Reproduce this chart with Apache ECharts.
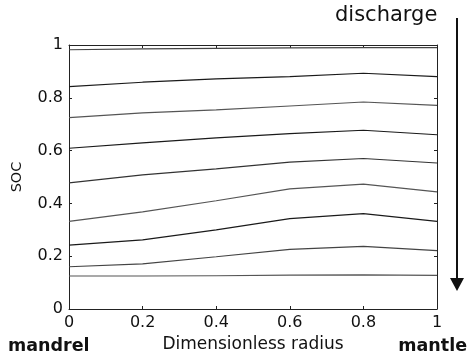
<!DOCTYPE html>
<html>
<head>
<meta charset="utf-8">
<script src="https://cdn.jsdelivr.net/npm/echarts@6/dist/echarts.min.js"></script>
<style>
html,body{margin:0;padding:0;background:#fff;}
#chart{width:468px;height:358px;}
</style>
</head>
<body>
<div id="chart"></div>
<script>
// Dimensionless radius positions
var radius = [0, 0.2, 0.4, 0.6, 0.8, 1.0];
// SOC profiles during discharge (top to bottom)
var soc0 = [0.982, 0.985, 0.987, 0.989, 0.990, 0.990];
var soc1 = [0.842, 0.859, 0.872, 0.880, 0.893, 0.880];
var soc2 = [0.725, 0.743, 0.754, 0.769, 0.784, 0.771];
var soc3 = [0.609, 0.629, 0.648, 0.664, 0.677, 0.660];
var soc4 = [0.478, 0.508, 0.531, 0.556, 0.570, 0.553];
var soc5 = [0.332, 0.368, 0.410, 0.455, 0.473, 0.444];
var soc6 = [0.242, 0.262, 0.300, 0.342, 0.361, 0.332];
var soc7 = [0.160, 0.171, 0.198, 0.226, 0.237, 0.221];
var soc8 = [0.125, 0.125, 0.126, 0.128, 0.129, 0.127];
var xTicks = [0, 0.2, 0.4, 0.6, 0.8, 1];
var yTicks = [0, 0.2, 0.4, 0.6, 0.8, 1];

var profiles = [soc0, soc1, soc2, soc3, soc4, soc5, soc6, soc7, soc8];
var colors = ['#444', '#1a1a1a', '#555', '#1a1a1a', '#333', '#555', '#1a1a1a', '#444', '#555'];

function pairs(arr) { return radius.map(function (r, i) { return [r, arr[i]]; }); }

var FONT = 'DejaVu Sans';
var axisLineStyle = { show: true, onZero: false, lineStyle: { color: '#222', width: 1 } };
var tickStyle = { show: true, inside: true, length: 3, lineStyle: { color: '#222' } };
function fmt(list) {
  return function (v) { var r = Math.round(v * 10) / 10; return list.indexOf(r) >= 0 ? String(r) : ''; };
}

var chart = echarts.init(document.getElementById('chart'), null, { renderer: 'canvas' });
chart.setOption({
  animation: false,
  backgroundColor: '#fff',
  grid: { left: 69, right: 31, top: 45, bottom: 49, containLabel: false },
  xAxis: [{
    type: 'value', min: 0, max: 1, interval: 0.2, position: 'bottom',
    axisLine: axisLineStyle, axisTick: tickStyle, splitLine: { show: false },
    axisLabel: { color: '#111', fontFamily: FONT, fontSize: 16, margin: 6, formatter: fmt(xTicks) },
    name: 'Dimensionless radius', nameLocation: 'middle', nameGap: 20,
    nameTextStyle: { color: '#111', fontFamily: FONT, fontSize: 17 }
  }, {
    type: 'value', min: 0, max: 1, interval: 0.2, position: 'top',
    axisLine: axisLineStyle, axisTick: tickStyle, splitLine: { show: false },
    axisLabel: { show: false }
  }],
  yAxis: [{
    type: 'value', min: 0, max: 1, interval: 0.2, position: 'left',
    axisLine: axisLineStyle, axisTick: tickStyle, splitLine: { show: false },
    axisLabel: { color: '#111', fontFamily: FONT, fontSize: 16, margin: 6, formatter: fmt(yTicks) },
    name: 'SOC', nameLocation: 'middle', nameGap: 44,
    nameTextStyle: { color: '#111', fontFamily: FONT, fontSize: 14.5 }
  }, {
    type: 'value', min: 0, max: 1, interval: 0.2, position: 'right',
    axisLine: axisLineStyle, axisTick: tickStyle, splitLine: { show: false },
    axisLabel: { show: false }
  }],
  series: profiles.map(function (p, i) {
    return {
      type: 'line', xAxisIndex: 0, yAxisIndex: 0, data: pairs(p),
      showSymbol: false, symbol: 'none', smooth: false,
      lineStyle: { color: colors[i], width: 1.2 }, silent: true
    };
  }),
  graphic: [
    { type: 'text', left: 335, top: 5, style: { text: 'discharge', fontFamily: FONT, fontSize: 21, fill: '#111' } },
    { type: 'line', shape: { x1: 457, y1: 18, x2: 457, y2: 282 }, style: { stroke: '#111', lineWidth: 2 } },
    { type: 'polygon', shape: { points: [[450, 278], [464, 278], [457, 291]] }, style: { fill: '#111' } },
    { type: 'text', left: 8, top: 337, style: { text: 'mandrel', fontFamily: FONT, fontSize: 17.5, fontWeight: 'bold', fill: '#111' } },
    { type: 'text', right: 1, top: 337, style: { text: 'mantle', fontFamily: FONT, fontSize: 17.5, fontWeight: 'bold', fill: '#111' } }
  ]
});
</script>
</body>
</html>
